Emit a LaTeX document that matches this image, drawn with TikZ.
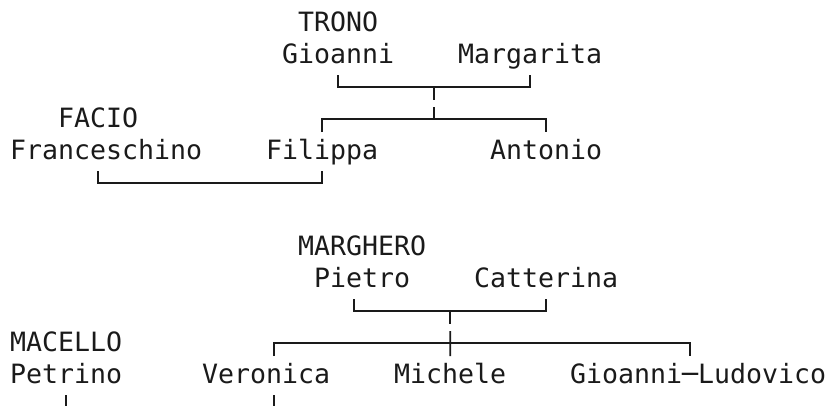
\documentclass[tikz,border=0pt]{standalone}
\usepackage{fontspec}
\setmonofont{DejaVu Sans Mono}
\usetikzlibrary{positioning}
\definecolor{inkgray}{HTML}{1A1A1A}
\tikzset{
  person/.style={anchor=base west, inner sep=0pt, text=inkgray,
                 font=\ttfamily\fontsize{26.58}{32}\selectfont},
  tie/.style={line width=1.8pt, draw=inkgray},
}

\begin{document}
\begin{tikzpicture}[x=1pt, y=-1pt]
  \useasboundingbox (0,0) rectangle (829,405);

  % Trono family
  \node (trono) [person] at (298,31)  {TRONO};
  \node (gio)   [person] at (282,63)  {Gioanni};
  \node (mar)   [person] at (458,63)  {Margarita};
  \node (facio) [person] at (58,127)  {FACIO};
  \node (fran)  [person] at (10,159)  {Franceschino};
  \node (fil)   [person] at (266,159) {Filippa};
  \node (ant)   [person] at (490,159) {Antonio};

  \draw[tie] ([yshift=-12pt]gio.base) -- ([yshift=-24pt]gio.base)
    -- coordinate[midway] (d1) ([yshift=-24pt]mar.base) -- ([yshift=-12pt]mar.base);
  \draw[tie] (d1) -- ([yshift=-13pt]d1);
  \draw[tie] ([yshift=-20pt]d1) -- ([yshift=-32pt]d1);
  \draw[tie] ([yshift=27pt]fil.base) -- ([yshift=40pt]fil.base)
    -- ([yshift=40pt]ant.base) -- ([yshift=27pt]ant.base);
  \draw[tie] ([shift={(-8pt,-12pt)}]fran.base) -- ([shift={(-8pt,-24pt)}]fran.base)
    -- ([yshift=-24pt]fil.base) -- ([yshift=-12pt]fil.base);

  % Marghero family
  \node (margh)   [person] at (298,255) {MARGHERO};
  \node (pie)     [person] at (314,287) {Pietro};
  \node (cat)     [person] at (474,287) {Catterina};
  \node (macello) [person] at (10,351)  {MACELLO};
  \node (pet)     [person] at (10,383)  {Petrino};
  \node (ver)     [person] at (202,383) {Veronica};
  \node (mic)     [person] at (394,383) {Michele};
  \node (gl)      [person] at (570,383) {Gioanni─Ludovico};

  \draw[tie] ([shift={(-8pt,-12pt)}]pie.base) -- ([shift={(-8pt,-24pt)}]pie.base)
    -- coordinate[midway] (d2) ([yshift=-24pt]cat.base) -- ([yshift=-12pt]cat.base);
  \draw[tie] (d2) -- ([yshift=-13pt]d2);
  \draw[tie] ([yshift=-20pt]d2) -- ([yshift=27pt]mic.base);
  \draw[tie] ([shift={(8pt,27pt)}]ver.base) -- ([shift={(8pt,40pt)}]ver.base)
    -- ([shift={(-8pt,40pt)}]gl.base) -- ([shift={(-8pt,27pt)}]gl.base);
  \draw[tie] ([yshift=-12pt]pet.base) -- ([yshift=-24pt]pet.base);
  \draw[tie] ([shift={(8pt,-12pt)}]ver.base) -- ([shift={(8pt,-24pt)}]ver.base);
\end{tikzpicture}
\end{document}
